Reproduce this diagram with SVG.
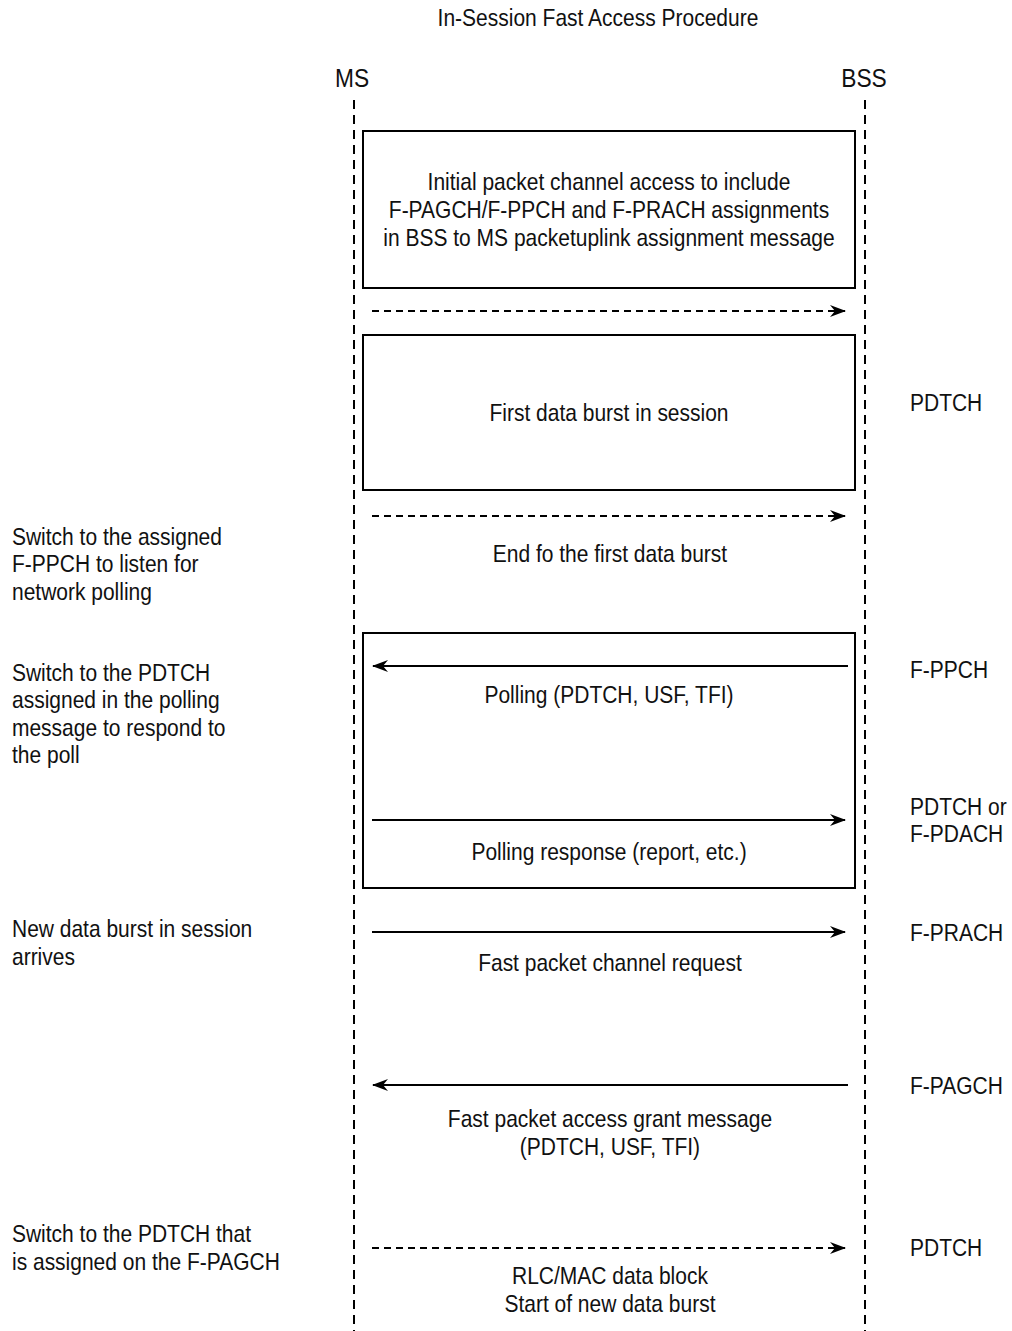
<svg xmlns="http://www.w3.org/2000/svg" width="1012" height="1331" viewBox="0 0 1012 1331">
  <defs>
    <marker id="arrow" viewBox="0 0 16 12" refX="15" refY="6" markerWidth="16" markerHeight="12" markerUnits="userSpaceOnUse" orient="auto">
      <path d="M0,0 L16,6 L0,12 L5,6 Z" fill="#000"/>
    </marker>
  </defs>
  <style>
    text { font-family: "Liberation Sans", Arial, sans-serif; font-size: 24px; fill: #111; }
    .c { text-anchor: middle; }
    .big { font-size: 26px; }
    .life { stroke: #000; stroke-width: 2; stroke-dasharray: 9 6; fill: none; }
    .box { fill: none; stroke: #000; stroke-width: 2; }
    .msg { stroke: #000; stroke-width: 2; fill: none; marker-end: url(#arrow); }
    .dash { stroke-dasharray: 7 5; }
  </style>
  <rect width="1012" height="1331" fill="#fff"/>

  <!-- all labels use a condensed face: horizontal scale 0.875, so x values are divided by 0.875 -->
  <g id="title" transform="scale(0.875,1)">
    <text class="c" x="683.4" y="26">In-Session Fast Access Procedure</text>
  </g>

  <!-- participants -->
  <g id="ms">
    <text class="c big" transform="scale(0.875,1)" x="402.3" y="87">MS</text>
    <line class="life" x1="354" y1="100" x2="354" y2="1331"/>
  </g>
  <g id="bss">
    <text class="c big" transform="scale(0.875,1)" x="987.4" y="87">BSS</text>
    <line class="life" x1="865" y1="100" x2="865" y2="1331"/>
  </g>

  <!-- phase boxes -->
  <g id="initial-access">
    <rect class="box" x="363" y="131" width="492" height="157"/>
    <g transform="scale(0.875,1)">
      <text class="c" x="696" y="190">Initial packet channel access to include</text>
      <text class="c" x="696" y="218">F-PAGCH/F-PPCH and F-PRACH assignments</text>
      <text class="c" x="696" y="246">in BSS to MS packetuplink assignment message</text>
    </g>
  </g>
  <g id="first-burst">
    <rect class="box" x="363" y="335" width="492" height="155"/>
    <text class="c" transform="scale(0.875,1)" x="696" y="421">First data burst in session</text>
  </g>
  <g id="polling">
    <rect class="box" x="363" y="633" width="492" height="255"/>
  </g>

  <!-- connectors -->
  <g id="connectors">
    <line class="msg dash" x1="372" y1="311" x2="845" y2="311"/>
    <line class="msg dash" x1="372" y1="516" x2="845" y2="516"/>
    <line class="msg" x1="848" y1="666" x2="373" y2="666"/>
    <line class="msg" x1="372" y1="820" x2="845" y2="820"/>
    <line class="msg" x1="372" y1="932" x2="845" y2="932"/>
    <line class="msg" x1="848" y1="1085" x2="373" y2="1085"/>
    <line class="msg dash" x1="372" y1="1248" x2="845" y2="1248"/>
  </g>

  <!-- message labels -->
  <g id="message-labels" transform="scale(0.875,1)">
    <text class="c" x="697.1" y="562">End fo the first data burst</text>
    <text class="c" x="696" y="703">Polling (PDTCH, USF, TFI)</text>
    <text class="c" x="696" y="860">Polling response (report, etc.)</text>
    <text class="c" x="697.1" y="971">Fast packet channel request</text>
    <text class="c" x="697.1" y="1127">Fast packet access grant message</text>
    <text class="c" x="697.1" y="1155">(PDTCH, USF, TFI)</text>
    <text class="c" x="697.1" y="1284">RLC/MAC data block</text>
    <text class="c" x="697.1" y="1312">Start of new data burst</text>
  </g>

  <!-- MS-side notes -->
  <g id="ms-notes" transform="scale(0.875,1)">
    <text x="13.7" y="545">Switch to the assigned</text>
    <text x="13.7" y="572">F-PPCH to listen for</text>
    <text x="13.7" y="600">network polling</text>
    <text x="13.7" y="681">Switch to the PDTCH</text>
    <text x="13.7" y="708">assigned in the polling</text>
    <text x="13.7" y="736">message to respond to</text>
    <text x="13.7" y="763">the poll</text>
    <text x="13.7" y="937">New data burst in session</text>
    <text x="13.7" y="965">arrives</text>
    <text x="13.7" y="1242">Switch to the PDTCH that</text>
    <text x="13.7" y="1270">is assigned on the F-PAGCH</text>
  </g>

  <!-- channel labels -->
  <g id="channels" transform="scale(0.875,1)">
    <text x="1040" y="411">PDTCH</text>
    <text x="1040" y="678">F-PPCH</text>
    <text x="1040" y="815">PDTCH or</text>
    <text x="1040" y="842">F-PDACH</text>
    <text x="1040" y="941">F-PRACH</text>
    <text x="1040" y="1094">F-PAGCH</text>
    <text x="1040" y="1256">PDTCH</text>
  </g>
</svg>
